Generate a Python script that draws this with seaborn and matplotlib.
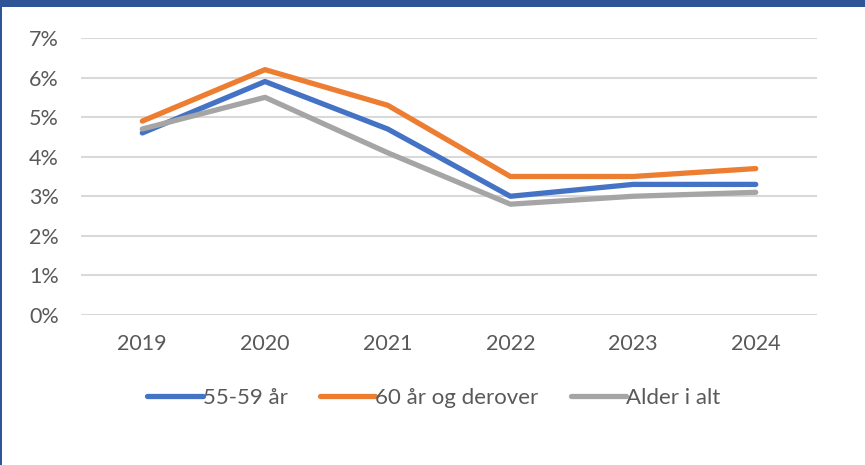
import pandas as pd
import seaborn as sns
import matplotlib.pyplot as plt
import matplotlib.ticker as mticker
from matplotlib.patches import Rectangle

years = [2019, 2020, 2021, 2022, 2023, 2024]
age_55_59 = [4.6, 5.9, 4.7, 3.0, 3.3, 3.3]
age_60_plus = [4.9, 6.2, 5.3, 3.5, 3.5, 3.7]
age_all = [4.7, 5.5, 4.1, 2.8, 3.0, 3.1]
series_names = ["55-59 år", "60 år og derover", "Alder i alt"]
colors = ["#4472C4", "#ED7D31", "#A5A5A5"]

frames = []
for name, vals in zip(series_names, [age_55_59, age_60_plus, age_all]):
    frames.append(pd.DataFrame({"year": years, "value": vals, "serie": name}))
df = pd.concat(frames, ignore_index=True)

sns.set_style("white")
plt.rcParams["font.family"] = ["Lato", "DejaVu Sans"]

fig = plt.figure(figsize=(8.65, 4.65), dpi=100)
ax = fig.add_axes([0.0936, 0.3226, 0.851, 0.5957])

sns.lineplot(data=df, x="year", y="value", hue="serie", palette=colors,
             linewidth=3.8, ax=ax, legend=True, solid_capstyle="round")

ax.set_xlim(2018.5, 2024.5)
ax.set_ylim(0, 7)
ax.set_xticks(years)
ax.set_yticks(range(0, 8))
ax.yaxis.set_major_formatter(mticker.FuncFormatter(lambda v, p: f"{v:.0f}%"))
ax.grid(axis="y", color="#D9D9D9", linewidth=1.5)
ax.set_axisbelow(True)
for s in ax.spines.values():
    s.set_visible(False)
ax.tick_params(axis="both", length=0, labelsize=15.5, labelcolor="#595959")
ax.tick_params(axis="y", pad=16)
ax.tick_params(axis="x", pad=14)
ax.set_xlabel("")
ax.set_ylabel("")

handles, labels = ax.get_legend_handles_labels()
for h in handles:
    h.set_linewidth(3.8)
    h.set_solid_capstyle("round")
leg = ax.legend(handles, labels, loc="center", bbox_to_anchor=(434 / 865, 1 - 398 / 465),
                bbox_transform=fig.transFigure, ncol=3, frameon=False,
                fontsize=16, handlelength=2.5, handletextpad=0.0,
                columnspacing=1.45)
for t in leg.get_texts():
    t.set_color("#595959")

# frame band at top and thin line at left
fig.patches.append(Rectangle((0, 1 - 7 / 465), 1, 7 / 465, transform=fig.transFigure,
                             facecolor="#2F5597", edgecolor="none"))
fig.patches.append(Rectangle((0, 0), 2 / 865, 1, transform=fig.transFigure,
                             facecolor="#2F5597", edgecolor="none"))

fig.savefig("out.png", dpi=100)
